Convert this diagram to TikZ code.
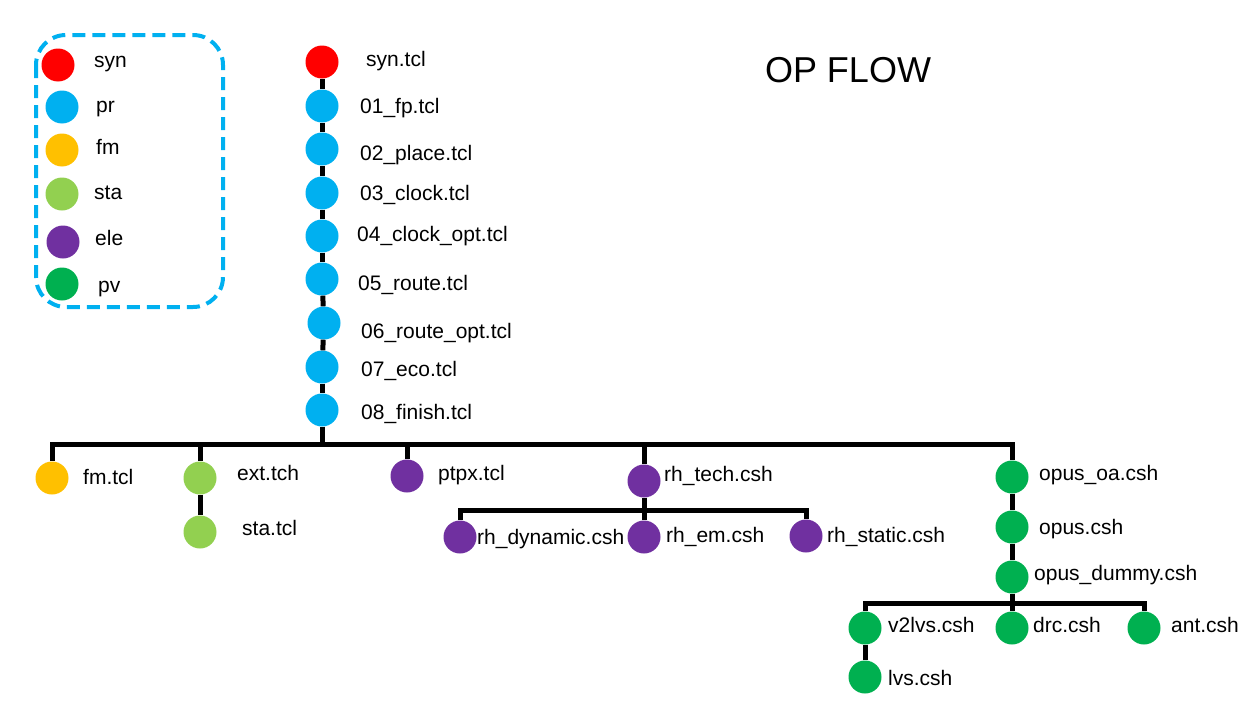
\documentclass[tikz,border=0pt]{standalone}
\usepackage{fontspec}
\setmainfont{Liberation Sans}
\definecolor{cred}{RGB}{255,0,0}
\definecolor{csky}{RGB}{0,176,240}
\definecolor{corange}{RGB}{255,192,0}
\definecolor{clime}{RGB}{146,208,80}
\definecolor{cpurple}{RGB}{112,48,160}
\definecolor{cgreen}{RGB}{0,176,80}
\begin{document}
\begin{tikzpicture}[x=1pt,y=-1pt,
  dot/.style={circle,minimum size=33pt,inner sep=0pt,fill=#1},
  lbl/.style={anchor=base west,inner sep=0pt,font=\fontsize{21}{25}\selectfont},
  link/.style={line width=5pt,black},
  legendbox/.style={draw=csky,line width=4pt,dash pattern=on 13pt off 7pt,rounded corners=30pt}]
\useasboundingbox (0,0) rectangle (1259,720);
% legend
\draw[legendbox] (36,35) rectangle (223,307);
\node[dot=cred] (lg-syn) at (58,65) {};
\node[dot=csky] (lg-pr) at (62,107) {};
\node[dot=corange] (lg-fm) at (62,150) {};
\node[dot=clime] (lg-sta) at (62,194) {};
\node[dot=cpurple] (lg-ele) at (63,242) {};
\node[dot=cgreen] (lg-pv) at (62,284) {};
\node[lbl] (lgt-syn) at (94,67) {syn};
\node[lbl] (lgt-pr) at (96,112) {pr};
\node[lbl] (lgt-fm) at (96,154) {fm};
\node[lbl] (lgt-sta) at (94,199) {sta};
\node[lbl] (lgt-ele) at (95,245) {ele};
\node[lbl] (lgt-pv) at (98,292) {pv};
% title
\node[font=\fontsize{36}{42}\selectfont,inner sep=0pt] (title) at (848,70) {OP FLOW};
% main trunk
\node[dot=cred] (syn) at (322,62) {};
\node[dot=csky] (fp) at (322,106) {};
\node[dot=csky] (place) at (322,149) {};
\node[dot=csky] (clock) at (322,193) {};
\node[dot=csky] (clockopt) at (322,236) {};
\node[dot=csky] (route) at (322,279) {};
\node[dot=csky] (routeopt) at (324,323) {};
\node[dot=csky] (eco) at (322,367) {};
\node[dot=csky] (finish) at (322,410) {};
\node[lbl] (t-syn) at (366,66.5) {syn.tcl};
\node[lbl] (t-fp) at (360,113.5) {01\_fp.tcl};
\node[lbl] (t-place) at (360,160.5) {02\_place.tcl};
\node[lbl] (t-clock) at (360,200.5) {03\_clock.tcl};
\node[lbl] (t-clockopt) at (357,241.5) {04\_clock\_opt.tcl};
\node[lbl] (t-route) at (358,290.5) {05\_route.tcl};
\node[lbl] (t-routeopt) at (361,338.5) {06\_route\_opt.tcl};
\node[lbl] (t-eco) at (361,376.5) {07\_eco.tcl};
\node[lbl] (t-finish) at (361,419.5) {08\_finish.tcl};
% branches
\node[dot=corange] (fm) at (52,478) {};
\node[lbl] (t-fm) at (83,484.5) {fm.tcl};
\node[dot=clime] (ext) at (200,478) {};
\node[lbl] (t-ext) at (237,480.5) {ext.tch};
\node[dot=clime] (sta) at (200,532) {};
\node[lbl] (t-sta) at (242,535.5) {sta.tcl};
\node[dot=cpurple] (ptpx) at (407,476) {};
\node[lbl] (t-ptpx) at (438,480.5) {ptpx.tcl};
\node[dot=cpurple] (rhtech) at (644,481) {};
\node[lbl] (t-rhtech) at (664,481.5) {rh\_tech.csh};
\node[dot=cpurple] (rhdyn) at (460,537) {};
\node[lbl] (t-rhdyn) at (477,544) {rh\_dynamic.csh};
\node[dot=cpurple] (rhem) at (644,537) {};
\node[lbl] (t-rhem) at (666,542.5) {rh\_em.csh};
\node[dot=cpurple] (rhstatic) at (806,536) {};
\node[lbl] (t-rhstatic) at (827,542.5) {rh\_static.csh};
\node[dot=cgreen] (opusoa) at (1012,477) {};
\node[lbl] (t-opusoa) at (1039,480.5) {opus\_oa.csh};
\node[dot=cgreen] (opus) at (1012,527) {};
\node[lbl] (t-opus) at (1039,534) {opus.csh};
\node[dot=cgreen] (opusdummy) at (1012,577) {};
\node[lbl] (t-opusdummy) at (1034,580.5) {opus\_dummy.csh};
\node[dot=cgreen] (v2lvs) at (865,628) {};
\node[lbl] (t-v2lvs) at (888,632.5) {v2lvs.csh};
\node[dot=cgreen] (drc) at (1012,628) {};
\node[lbl] (t-drc) at (1033,632.5) {drc.csh};
\node[dot=cgreen] (ant) at (1144,628) {};
\node[lbl] (t-ant) at (1171,632.5) {ant.csh};
\node[dot=cgreen] (lvs) at (865,677) {};
\node[lbl] (t-lvs) at (888,685.5) {lvs.csh};
% junctions
\coordinate (bus) at (322,444);
\coordinate (rhbus) at (644,510);
\coordinate (pvbus) at (1012,603);
% connectors
\draw[link] (syn) -- (fp);
\draw[link] (fp) -- (place);
\draw[link] (place) -- (clock);
\draw[link] (clock) -- (clockopt);
\draw[link] (clockopt) -- (route);
\draw[link] (route) -- (routeopt);
\draw[link] (routeopt) -- (eco);
\draw[link] (eco) -- (finish);
\draw[link] (finish) -- (bus);
\draw[link] (bus) -| (fm);
\draw[link] (bus) -| (ext);
\draw[link] (bus) -| (ptpx);
\draw[link] (bus) -| (rhtech);
\draw[link] (bus) -| (opusoa);
\draw[link] (ext) -- (sta);
\draw[link] (rhtech) -- (rhbus);
\draw[link] (rhbus) -| (rhdyn);
\draw[link] (rhbus) -- (rhem);
\draw[link] (rhbus) -| (rhstatic);
\draw[link] (opusoa) -- (opus);
\draw[link] (opus) -- (opusdummy);
\draw[link] (opusdummy) -- (pvbus);
\draw[link] (pvbus) -| (v2lvs);
\draw[link] (pvbus) -- (drc);
\draw[link] (pvbus) -| (ant);
\draw[link] (v2lvs) -- (lvs);
\end{tikzpicture}
\end{document}
